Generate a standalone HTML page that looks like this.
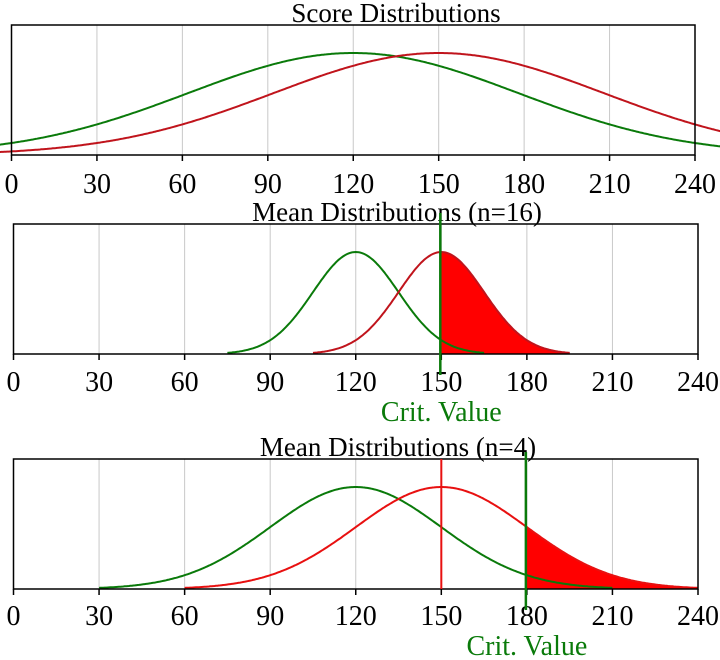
<!DOCTYPE html>
<html><head><meta charset="utf-8"><style>
html,body{margin:0;padding:0;background:#fff;width:720px;height:660px;overflow:hidden}
svg{display:block}
text{font-family:"Liberation Serif",serif;font-size:28px}
.t{font-size:27px}
</style></head><body>
<svg id="s" width="720" height="660" xmlns="http://www.w3.org/2000/svg"></svg>
<script>
const s=document.getElementById('s');let h='';
const G='#0a7a0a',R='#e81010',RD='#c0141c';
function pdf(x,m,sd){return Math.exp(-0.5*((x-m)/sd)**2);}
function panel(p){
 const X=v=>p.x0+v*(p.x1-p.x0)/240, Y=f=>p.bot-f*(p.bot-p.peak);
 for(let v=30;v<=210;v+=30) h+=`<line x1="${X(v)}" y1="${p.top}" x2="${X(v)}" y2="${p.bot}" stroke="#c8c8c8" stroke-width="1"/>`;
 if(p.crit!==undefined){
  let d=`M${X(p.crit)},${p.bot}`;
  for(let v=p.crit;v<=Math.min(240,150+3*p.sd);v+=0.5) d+=`L${X(v).toFixed(1)},${Y(pdf(v,150,p.sd)).toFixed(1)}`;
  d+=`L${X(Math.min(240,150+3*p.sd))},${p.bot}Z`;
  h+=`<path d="${d}" fill="#ff0000"/>`;
 }
 [[120,G],[150,p.red]].forEach(([m,c])=>{
  let a=p.full?-5:m-3*p.sd,b=p.full?250:m+3*p.sd;let d='';
  for(let v=a;v<=b;v+=0.5) d+=(d?'L':'M')+X(v).toFixed(1)+','+Y(pdf(v,m,p.sd)).toFixed(1);
  h+=`<path d="${d}" fill="none" stroke="${c}" stroke-width="2"/>`;
 });
 h+=`<rect x="${p.x0}" y="${p.top}" width="${p.x1-p.x0}" height="${p.bot-p.top}" fill="none" stroke="#000" stroke-width="1.5"/>`;
 for(let v=0;v<=240;v+=30){
  h+=`<line x1="${X(v)}" y1="${p.bot}" x2="${X(v)}" y2="${p.bot+6}" stroke="#000" stroke-width="1.5"/>`;
  h+=`<text x="${X(v)}" y="${p.lab}" text-anchor="middle">${v}</text>`;
 }
 h+=`<text class="t" x="${p.tx}" y="${p.ty}" text-anchor="middle">${p.title}</text>`;
 if(p.crit!==undefined){
  if(p.redline) h+=`<line x1="${X(150)}" y1="${p.top}" x2="${X(150)}" y2="${p.bot}" stroke="${R}" stroke-width="2"/>`;
  h+=`<line x1="${X(p.crit)-1}" y1="${p.vt}" x2="${X(p.crit)-1}" y2="${p.vb}" stroke="${G}" stroke-width="2.5"/>`;
  h+=`<text x="${X(p.crit)}" y="${p.cy}" text-anchor="middle" fill="${G}">Crit. Value</text>`;
 }
}
panel({x0:11.5,x1:695,top:25,bot:155,peak:53,sd:58,full:1,red:RD,lab:193,title:'Score Distributions',tx:396,ty:22});
panel({x0:13.5,x1:698,top:224,bot:354,peak:252,sd:15,red:RD,lab:391,title:'Mean Distributions (n=16)',tx:397,ty:221,crit:150,vt:213,vb:375,cy:421});
panel({x0:13.5,x1:698,top:459,bot:589,peak:487,sd:30,red:R,lab:625,title:'Mean Distributions (n=4)',tx:398,ty:456,crit:180,vt:452,vb:610,cy:655,redline:1});
s.innerHTML=h;
</script>
</body></html>
